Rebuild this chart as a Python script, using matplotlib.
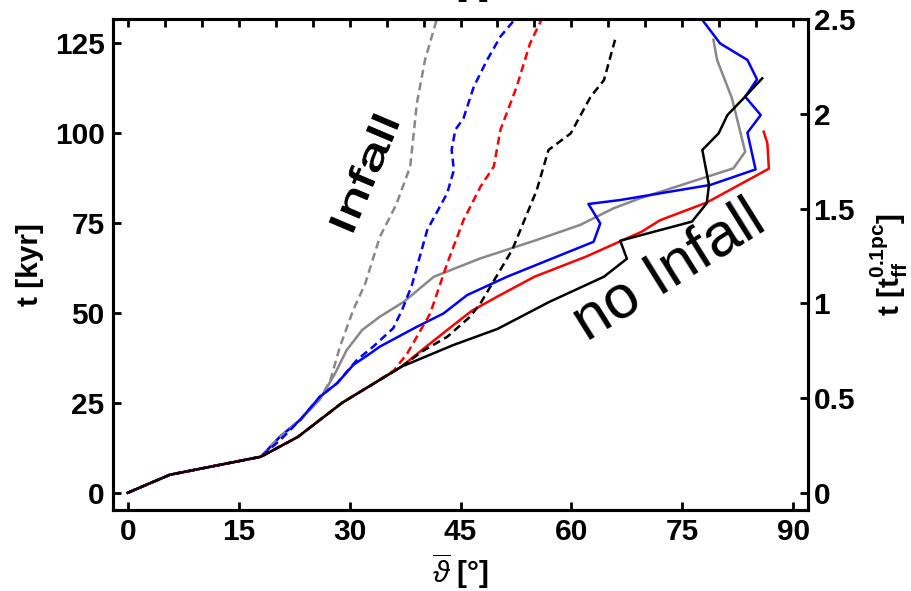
import numpy as np
import matplotlib
matplotlib.use('Agg')
import matplotlib.pyplot as plt
from matplotlib.ticker import MultipleLocator
from matplotlib.textpath import TextPath
from matplotlib.patches import PathPatch
from matplotlib.font_manager import FontProperties
from matplotlib.transforms import Affine2D, ScaledTranslation

plt.rcParams['font.family'] = ['Liberation Sans', 'DejaVu Sans']
plt.rcParams['mathtext.fontset'] = 'custom'
plt.rcParams['mathtext.rm'] = 'Liberation Sans'
plt.rcParams['mathtext.bf'] = 'Liberation Sans:bold'
plt.rcParams['mathtext.it'] = 'Liberation Sans:italic'

# mean angle [deg] vs time [kyr], with / without infall
start_x = [0, 5.7, 18]
start_t = [0, 5, 10]

noinf_black_x = start_x + [23, 29, 33, 37, 44, 50, 57, 64.4, 67.5, 66.6, 76.3, 78.3, 78.6, 77.7, 79.9, 81.1, 83.3, 85.8]
noinf_black_t = start_t + [15.5, 25, 30, 35, 41, 45.5, 53, 60, 65, 70, 75.3, 80.4, 85.5, 95.2, 99.8, 104.9, 109.6, 115.1]

noinf_red_x = start_x + [23, 29, 33, 37, 40, 43.2, 46.5, 50, 55, 62, 69.5, 72, 78.3, 86.7, 86.5, 86]
noinf_red_t = start_t + [15.5, 25, 30, 35, 40, 45.2, 50.5, 54.5, 60, 65.6, 72.5, 75.7, 80.6, 90, 97, 100.3]

noinf_blue_x = start_x + [20.6, 23.3, 26, 28.3, 30.5, 32.8, 34.1, 39.1, 42.7, 45.9, 51.3, 63, 63.9, 62.3, 66.6, 78.8, 84.9,
                          83.8, 85.6, 83.5, 85.1, 83.8, 80.1, 77.6]
noinf_blue_t = start_t + [15.6, 20.2, 26.7, 30.4, 35.5, 38.7, 40.6, 46.1, 49.8, 54.9, 60, 69.7, 74.8, 80.2, 81.3, 85.5, 89.8,
                          100, 104.9, 110, 114.8, 120.2, 124.8, 131.6]

noinf_gray_x = start_x + [20.6, 23.3, 26, 28, 29.6, 31.7, 34.1, 37.3, 41.4, 47.7, 55.3, 61.2, 65.7, 69.3, 81.9, 83.5, 81.7,
                          79.7, 79.2]
noinf_gray_t = start_t + [15.6, 20.2, 26, 33, 39.6, 45.2, 48.9, 53, 60, 65.1, 70.2, 74.4, 79, 81.8, 90.1, 94.7, 109.6,
                          120.2, 125.8]

inf_black_x = start_x + [23, 29, 33, 37, 40, 43.2, 46.3, 47.7, 52, 55.3, 56.9, 59.9, 62.6, 64.4, 65.9]
inf_black_t = start_t + [15.5, 25, 30, 35, 39.5, 43.3, 48.9, 52.6, 67.5, 84, 95.2, 99.8, 110, 114.6, 125.8]

inf_red_x = start_x + [23, 29, 33, 36, 37.8, 40.9, 43.2, 45.4, 47.7, 49.5, 50.4, 52.6, 54.4, 56]
inf_red_t = start_t + [15.5, 25, 30, 34, 38.7, 49.8, 63.7, 75.7, 85, 90.6, 100.8, 112.8, 124.8, 131.6]

inf_blue_x = start_x + [20.6, 23.3, 26, 28.3, 31, 33.2, 35.9, 37.1, 38.4, 40.5, 43.2, 44.1, 43.8, 44.3, 45.4, 46.8, 48.6,
                        50.4, 52.4]
inf_blue_t = start_t + [14.6, 20.2, 26.7, 30.4, 36.9, 40.6, 45.7, 50.8, 57.5, 73, 83.2, 89.6, 95.2, 100.8, 104, 112.8,
                        120.2, 126.7, 131.6]

inf_gray_x = start_x + [20.6, 23.3, 26, 27.4, 28.7, 30.5, 32.1, 34.1, 36.3, 38.2, 39.1, 40.2, 41.8]
inf_gray_t = start_t + [15.6, 20.2, 26, 31.3, 40.6, 50.8, 58, 71.1, 80, 90.6, 108.2, 120.2, 131.6]

t_ff = 52.6  # kyr per t_ff^0.1pc

fig = plt.figure(figsize=(9.11, 5.91), dpi=100)
ax = fig.add_axes([0.124, 0.137, 0.763, 0.831])

lw = 1.8
ax.plot(noinf_gray_x, noinf_gray_t, color='#888888', lw=lw)
ax.plot(noinf_blue_x, noinf_blue_t, color='#0000ff', lw=lw)
ax.plot(noinf_red_x, noinf_red_t, color='#ff0000', lw=lw)
ax.plot(noinf_black_x, noinf_black_t, color='black', lw=lw)
for xs, ts, c in [(inf_gray_x, inf_gray_t, '#888888'), (inf_blue_x, inf_blue_t, '#0000ff'),
                  (inf_red_x, inf_red_t, '#ff0000'), (inf_black_x, inf_black_t, 'black')]:
    ax.plot(xs, ts, color=c, lw=lw, ls=(0, (3.2, 1.9)))

ax.set_xlim(-2, 92)
ax.set_ylim(-4.8, 131.6)
ax.set_xticks(np.arange(0, 91, 15))
ax.set_yticks(np.arange(0, 126, 25))
ax.xaxis.set_minor_locator(MultipleLocator(5))
ax.tick_params(which='major', direction='in', length=6, width=2, labelsize=21.5, top=True, right=False, pad=6)
ax.tick_params(which='minor', direction='in', length=6, width=2, top=True, bottom=False)
for lab in ax.get_xticklabels() + ax.get_yticklabels():
    lab.set_fontweight('bold')
for s in ax.spines.values():
    s.set_linewidth(2.2)

ax2 = ax.twinx()
ax2.set_ylim(-4.8 / t_ff, 131.6 / t_ff)
ax2.set_yticks([0, 0.5, 1, 1.5, 2, 2.5])
ax2.set_yticklabels(['0', '0.5', '1', '1.5', '2', '2.5'], fontweight='bold')
ax2.tick_params(direction='in', length=6, width=2, labelsize=21.5, pad=4)
for s in ax2.spines.values():
    s.set_linewidth(2.2)

ax.set_ylabel('t [kyr]', fontsize=21.5, fontweight='bold', labelpad=8)
ax.set_xlabel(r'$\overline{\vartheta}$ [°]', fontsize=21.5, fontweight='bold', labelpad=4)
ax2.set_ylabel(r'$\mathbf{t\ [t_{ff}^{0.1pc}]}$', fontsize=21.5, fontweight='bold', labelpad=10)


def stretched_text(s, x, y, sx, sy, angle):
    # text drawn as a path, stretched along its baseline (sizes in pixels)
    tp = TextPath((0, 0), s, size=1, prop=FontProperties(family='Liberation Sans'))
    ext = tp.get_extents()
    tr = (Affine2D().translate(-(ext.x0 + ext.x1) / 2, -(ext.y0 + ext.y1) / 2)
          .scale(sx, sy).rotate_deg(angle) + ScaledTranslation(x, y, ax.transData))
    ax.add_patch(PathPatch(tp, transform=tr, facecolor='black', edgecolor='black', lw=0.6, clip_on=False))


stretched_text('Infall', 31.9, 88.8, 60, 38, 67)
ax.text(73.3, 61.5, 'no Infall', fontsize=44, rotation=32, ha='center', va='center', rotation_mode='anchor')

# clipped labels from neighbouring panels
fig.text(0.505, 0.993, r'$\vartheta$ [°]', fontsize=21.5, fontweight='bold', ha='center', va='bottom')
fig.text(0.913, -0.026, '0.5', fontsize=21.5, fontweight='bold', ha='center', va='center')

fig.savefig('out.png', dpi=100)
